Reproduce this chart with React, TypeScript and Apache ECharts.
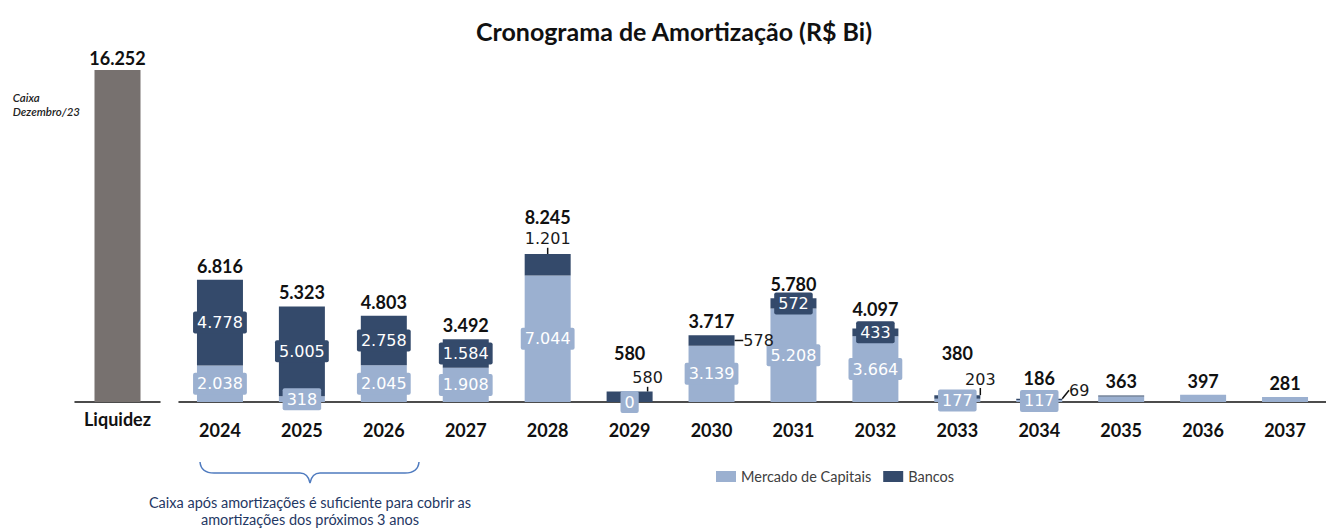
import React, { useEffect, useRef } from 'react';
import * as echarts from 'echarts';

const years = ['2024', '2025', '2026', '2027', '2028', '2029', '2030', '2031', '2032', '2033', '2034', '2035', '2036', '2037'];
const mercado = [2038, 318, 2045, 1908, 7044, 0, 3139, 5208, 3664, 177, 117, 313, 397, 281];
const bancos = [4778, 5005, 2758, 1584, 1201, 580, 578, 572, 433, 203, 69, 50, 0, 0];
const totals = [6816, 5323, 4803, 3492, 8245, 580, 3717, 5780, 4097, 380, 186, 363, 397, 281];
const liquidezCat = ['Liquidez'];
const liquidez = [16252];

const LIGHT = '#9BB0D0';
const DARK = '#344A6B';
const GRAY = '#77716F';

// label layout adjustments (pixels)
const bancoLabelMoves: Record<number, [number, number]> = {
  4: [0, -26],
  5: [18, -19],
  6: [47, 0],
  9: [23, -18],
  10: [40, -9],
};
const totalLabelMoves: Record<number, number> = { 4: -23, 5: -25, 8: -5, 9: -28, 10: -7 };
const segLabelCount = 11;

const fmt = (v: number) => String(v).replace(/\B(?=(\d{3})+(?!\d))/g, '.');

echarts.graphic.registerShape(
  'brace',
  echarts.graphic.extendPath(
    'M200 462 Q201 473 214 473 L300 473 Q308 473 310 483 Q312 473 320 473 L405 473 Q418 473 419 462',
    {}
  )
);

export default function App() {
  const ref = useRef<HTMLDivElement>(null);
  useEffect(() => {
    if (!ref.current) return;
    const chart = echarts.init(ref.current, null, { renderer: 'svg' });
    const boxLabel = (bg: string) => ({
      show: true,
      position: 'inside',
      formatter: (p: any) => fmt(p.value),
      color: '#ffffff',
      backgroundColor: bg,
      padding: [2, 4],
      lineHeight: 18,
      fontFamily: 'DejaVu Sans',
      fontSize: 16,
      borderRadius: 2,
    });
    const mercadoData = mercado.map((v, i) => ({ value: v, label: { show: i < segLabelCount } }));
    const bancosData = bancos.map((v, i) => {
      const moved = bancoLabelMoves[i];
      return {
        value: v,
        label: i < segLabelCount
          ? moved
            ? { show: true, backgroundColor: 'transparent', color: '#1a1a1a', padding: 0 }
            : { show: true }
          : { show: false },
        labelLine: { show: !!moved },
      };
    });
    const totalData = totals.map((t, i) => ({
      value: 0,
      label: { offset: [0, totalLabelMoves[i] || 0] },
    }));

    chart.setOption({
      animation: false,
      textStyle: { fontFamily: 'Lato' },
      legend: {
        data: ['Mercado de Capitais', 'Bancos'],
        left: 716,
        top: 469,
        padding: 0,
        itemWidth: 20,
        itemHeight: 11,
        itemGap: 12,
        icon: 'rect',
        textStyle: { fontFamily: 'Lato', fontSize: 14.5, color: '#404040' },
      },
      grid: [
        { left: 179, width: 1155, top: 222.5, height: 179.5 },
        { left: 75, width: 85, top: 70, height: 332 },
      ],
      xAxis: [
        {
          type: 'category',
          gridIndex: 0,
          data: years,
          axisLine: { lineStyle: { color: '#111', width: 1.5 } },
          axisTick: { show: false },
          axisLabel: { fontFamily: 'Lato', fontWeight: 'bold', fontSize: 18, color: '#111', margin: 19 },
        },
        {
          type: 'category',
          gridIndex: 1,
          data: liquidezCat,
          axisLine: { lineStyle: { color: '#111', width: 1.5 } },
          axisTick: { show: false },
          axisLabel: { fontFamily: 'Lato', fontWeight: 'bold', fontSize: 18, color: '#111', margin: 8 },
        },
      ],
      yAxis: [
        { type: 'value', gridIndex: 0, min: 0, max: 10000, show: false },
        { type: 'value', gridIndex: 1, min: 0, max: 16252, show: false },
      ],
      series: [
        {
          name: 'Mercado de Capitais',
          type: 'bar',
          stack: 'a',
          barWidth: 46,
          itemStyle: { color: LIGHT },
          label: boxLabel(LIGHT),
          data: mercadoData,
        },
        {
          name: 'Bancos',
          type: 'bar',
          stack: 'a',
          barWidth: 46,
          itemStyle: { color: DARK },
          label: boxLabel(DARK),
          labelLine: { show: false, lineStyle: { color: '#111', width: 1.5 } },
          labelLayout: (p: any) => {
            const m = bancoLabelMoves[p.dataIndex];
            return m ? { dx: m[0], dy: m[1] } : {};
          },
          data: bancosData,
        },
        {
          name: 'Total',
          type: 'bar',
          stack: 'a',
          barWidth: 46,
          itemStyle: { color: 'transparent' },
          label: {
            show: true,
            position: 'top',
            distance: 5,
            formatter: (p: any) => fmt(totals[p.dataIndex]),
            fontFamily: 'Lato',
            fontWeight: 'bold',
            fontSize: 18,
            color: '#111',
          },
          data: totalData,
        },
        {
          name: 'Liquidez',
          type: 'bar',
          xAxisIndex: 1,
          yAxisIndex: 1,
          barWidth: 46,
          itemStyle: { color: GRAY },
          label: {
            show: true,
            position: 'top',
            distance: 3,
            formatter: (p: any) => fmt(p.value),
            fontFamily: 'Lato',
            fontWeight: 'bold',
            fontSize: 18,
            color: '#111',
          },
          data: liquidez,
        },
      ],
      graphic: [
        {
          type: 'text',
          x: 674,
          y: 31,
          style: {
            text: 'Cronograma de Amortização (R$ Bi)',
            align: 'center',
            verticalAlign: 'middle',
            fontFamily: 'Lato',
            fontWeight: 'bold',
            fontSize: 25,
            fill: '#111',
          },
        },
        {
          type: 'text',
          right: 1326 - 80,
          top: 90,
          style: {
            text: 'Caixa\nDezembro/23',
            align: 'right',
            fontFamily: 'Lato',
            fontStyle: 'italic',
            fontWeight: 600,
            fontSize: 11.5,
            lineHeight: 14,
            fill: '#222',
          },
        },
        {
          type: 'brace',
          x: 0,
          y: 0,
          style: { stroke: '#4F7BBF', lineWidth: 1.5, fill: 'none' },
        },
        {
          type: 'text',
          x: 310,
          y: 494,
          style: {
            text: 'Caixa após amortizações é suficiente para cobrir as\namortizações dos próximos 3 anos',
            align: 'center',
            fontFamily: 'Lato',
            fontSize: 14.5,
            lineHeight: 17,
            fill: '#1F3864',
          },
        },
      ],
    });
    return () => chart.dispose();
  }, []);
  return <div ref={ref} style={{ position: 'absolute', left: 0, top: 0, width: 1326, height: 529 }} />;
}
